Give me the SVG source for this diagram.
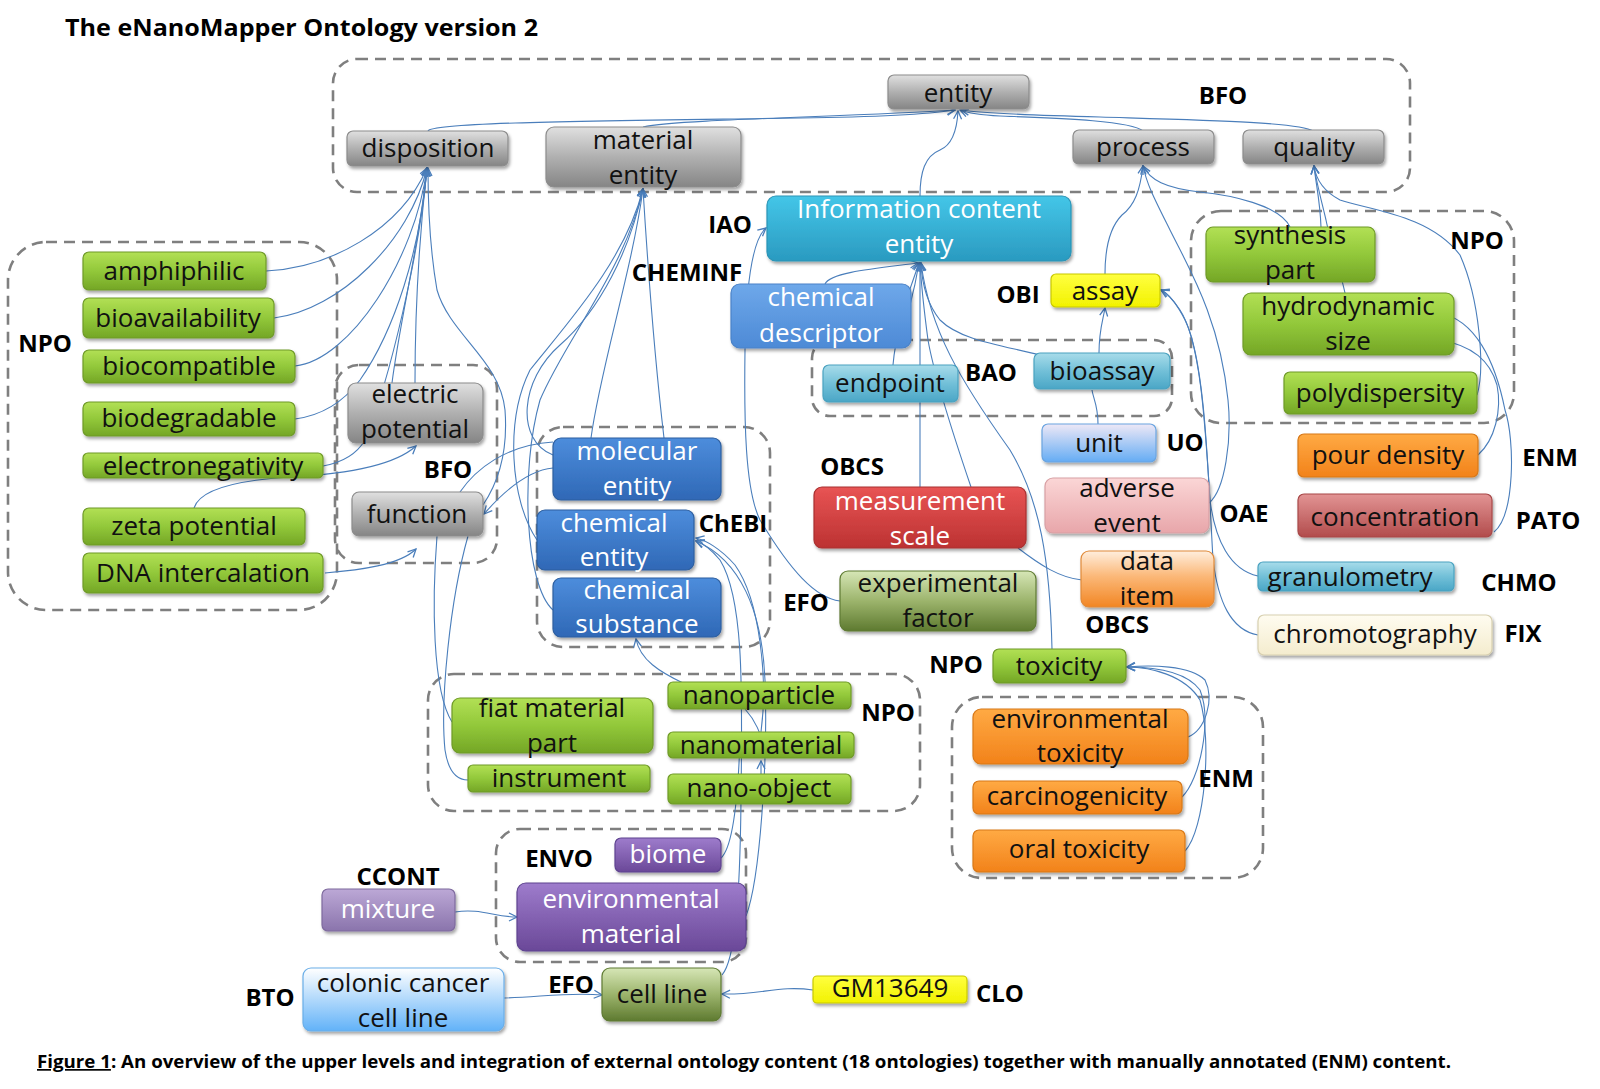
<svg xmlns="http://www.w3.org/2000/svg" width="1600" height="1089" viewBox="0 0 1600 1089">
<defs>
<style>
.t{font-family:"Open Sans","DejaVu Sans",sans-serif;font-size:26px;text-anchor:middle;fill:#111}
.w{fill:#fff}
.lbl{font-family:"Open Sans","DejaVu Sans",sans-serif;font-weight:700;font-size:24px;text-anchor:middle;fill:#000}
.grp{fill:none;stroke:#7f7f7f;stroke-width:2.6;stroke-dasharray:11 7}
.c path{fill:none;stroke:#4a7ebb;stroke-width:1.1}
.c .a{marker-end:url(#arr)}
.n rect{stroke-width:1.2;filter:url(#sh)}
.gray rect{fill:url(#gGray);stroke:#8c8c8c}
.green rect{fill:url(#gGreen);stroke:#6f9a28}
.blue rect{fill:url(#gBlue);stroke:#2d5f9f}
.lblue rect{fill:url(#gLBlue);stroke:#4a82c8}
.cyan rect{fill:url(#gCyan);stroke:#2a94b6}
.teal rect{fill:url(#gTeal);stroke:#4aa2c0}
.yellow rect{fill:url(#gYellow);stroke:#c8c800}
.red rect{fill:url(#gRed);stroke:#a83030}
.pink rect{fill:url(#gPink);stroke:#d8a0a4}
.peach rect{fill:url(#gPeach);stroke:#e08a3a}
.olive rect{fill:url(#gOlive);stroke:#5e7a32}
.unit rect{fill:url(#gUnit);stroke:#6aa4e0}
.orange rect{fill:url(#gOrange);stroke:#d87818}
.conc rect{fill:url(#gConc);stroke:#a84848}
.cream rect{fill:url(#gCream);stroke:#d8d0b0}
.purple rect{fill:url(#gPurple);stroke:#5e4390}
.mix rect{fill:url(#gMix);stroke:#7e6a9e}
.colon rect{fill:url(#gColon);stroke:#6aaee8}
</style>
<filter id="sh" x="-10%" y="-20%" width="125%" height="150%">
<feDropShadow dx="1.5" dy="2.5" stdDeviation="1.8" flood-color="#000" flood-opacity="0.35"/>
</filter>
<marker id="arr" viewBox="0 0 10 10" refX="9" refY="5" markerWidth="10" markerHeight="10" markerUnits="userSpaceOnUse" orient="auto">
<path d="M1,1 L9,5 L1,9" fill="none" stroke="#4a7ebb" stroke-width="1.3"/>
</marker>
<linearGradient id="gGray" x1="0" y1="0" x2="0" y2="1"><stop offset="0" stop-color="#e0e0e0"/><stop offset="0.5" stop-color="#b0b0b0"/><stop offset="1" stop-color="#858585"/></linearGradient>
<linearGradient id="gGreen" x1="0" y1="0" x2="0" y2="1"><stop offset="0" stop-color="#b2e055"/><stop offset="0.5" stop-color="#92c83a"/><stop offset="1" stop-color="#74a626"/></linearGradient>
<linearGradient id="gBlue" x1="0" y1="0" x2="0" y2="1"><stop offset="0" stop-color="#4d8ddc"/><stop offset="1" stop-color="#2f68b6"/></linearGradient>
<linearGradient id="gLBlue" x1="0" y1="0" x2="0" y2="1"><stop offset="0" stop-color="#6ea8ea"/><stop offset="1" stop-color="#4d8ad6"/></linearGradient>
<linearGradient id="gCyan" x1="0" y1="0" x2="0" y2="1"><stop offset="0" stop-color="#44c6e8"/><stop offset="1" stop-color="#2a9ac0"/></linearGradient>
<linearGradient id="gTeal" x1="0" y1="0" x2="0" y2="1"><stop offset="0" stop-color="#a8dcea"/><stop offset="0.5" stop-color="#72c0d8"/><stop offset="1" stop-color="#4aa6c6"/></linearGradient>
<linearGradient id="gYellow" x1="0" y1="0" x2="0" y2="1"><stop offset="0" stop-color="#ffff40"/><stop offset="1" stop-color="#f2f200"/></linearGradient>
<linearGradient id="gRed" x1="0" y1="0" x2="0" y2="1"><stop offset="0" stop-color="#e85454"/><stop offset="1" stop-color="#bc3232"/></linearGradient>
<linearGradient id="gPink" x1="0" y1="0" x2="0" y2="1"><stop offset="0" stop-color="#fbd6d6"/><stop offset="1" stop-color="#e8a6aa"/></linearGradient>
<linearGradient id="gPeach" x1="0" y1="0" x2="0" y2="1"><stop offset="0" stop-color="#ffeedd"/><stop offset="0.45" stop-color="#fbb878"/><stop offset="1" stop-color="#f28624"/></linearGradient>
<linearGradient id="gOlive" x1="0" y1="0" x2="0" y2="1"><stop offset="0" stop-color="#d6e6b6"/><stop offset="0.5" stop-color="#9cb46c"/><stop offset="1" stop-color="#5e7a30"/></linearGradient>
<linearGradient id="gUnit" x1="0" y1="0" x2="0" y2="1"><stop offset="0" stop-color="#eee8f6"/><stop offset="1" stop-color="#64acf4"/></linearGradient>
<linearGradient id="gOrange" x1="0" y1="0" x2="0" y2="1"><stop offset="0" stop-color="#ffaa44"/><stop offset="1" stop-color="#f2821a"/></linearGradient>
<linearGradient id="gConc" x1="0" y1="0" x2="0" y2="1"><stop offset="0" stop-color="#e29494"/><stop offset="1" stop-color="#b24c4c"/></linearGradient>
<linearGradient id="gCream" x1="0" y1="0" x2="0" y2="1"><stop offset="0" stop-color="#fffcf0"/><stop offset="1" stop-color="#f4ecce"/></linearGradient>
<linearGradient id="gPurple" x1="0" y1="0" x2="0" y2="1"><stop offset="0" stop-color="#9e7ccc"/><stop offset="1" stop-color="#6a4898"/></linearGradient>
<linearGradient id="gMix" x1="0" y1="0" x2="0" y2="1"><stop offset="0" stop-color="#bca8d6"/><stop offset="1" stop-color="#8a74ac"/></linearGradient>
<linearGradient id="gColon" x1="0" y1="0" x2="0" y2="1"><stop offset="0" stop-color="#ffffff"/><stop offset="1" stop-color="#62b2f8"/></linearGradient>
</defs>
<rect width="1600" height="1089" fill="#fff"/>

<text x="65" y="36" font-family="Open Sans, DejaVu Sans, sans-serif" font-weight="700" font-size="24" textLength="473" lengthAdjust="spacingAndGlyphs">The eNanoMapper Ontology version 2</text>

<g id="groups">
<rect class="grp" x="333" y="59" width="1077" height="133" rx="24"/>
<rect class="grp" x="8" y="242" width="329" height="368" rx="38"/>
<rect class="grp" x="335" y="365" width="162" height="198" rx="24"/>
<rect class="grp" x="537" y="427" width="233" height="220" rx="26"/>
<rect class="grp" x="812" y="340" width="360" height="76" rx="18"/>
<rect class="grp" x="1191" y="211" width="323" height="212" rx="30"/>
<rect class="grp" x="428" y="674" width="492" height="137" rx="26"/>
<rect class="grp" x="496" y="829" width="250" height="133" rx="24"/>
<rect class="grp" x="952" y="697" width="311" height="181" rx="30"/>
</g>

<g id="connectors" class="c">
<path class="a" d="M428,131 C432,122 600,121 800,118 C880,117 930,114 955,110"/>
<path class="a" d="M643,127 C680,119 850,117 955,110"/>
<path class="a" d="M1143,131 C1130,120 1050,118 1000,116 C980,115 965,112 960,110"/>
<path class="a" d="M1313,131 C1300,122 1200,120 1100,117 C1020,115 975,112 961,110"/>
<path class="a" d="M920,196 C920,172 925,156 940,150 C952,145 957,130 958,111"/>
<path class="a" d="M266,271 C330,268 400,230 427,168"/>
<path class="a" d="M274,318 C340,310 410,240 427,168"/>
<path class="a" d="M295,366 C350,360 415,260 427,168"/>
<path class="a" d="M295,419 C325,415 345,400 360,380 C395,330 420,250 427,168"/>
<path class="a" d="M415,383 C415,300 420,230 427,168"/>
<path class="a" d="M392,383 C400,320 420,240 427,168"/>
<path class="a" d="M323,466 C345,462 358,452 365,440 C390,380 420,250 427,168"/>
<path class="a" d="M194,508 C200,488 240,480 290,477 C350,474 395,465 416,446"/>
<path class="a" d="M325,573 C360,570 400,565 416,549"/>
<path class="a" d="M483,505 C500,480 508,450 505,410 C500,360 450,335 437,290 C430,250 428,200 428,168"/>
<path class="a" d="M553,468 C530,470 505,490 484,514"/>
<path d="M460,492 C475,470 505,445 553,442"/>
<path d="M437,536 C432,600 432,690 452,722"/>
<path d="M468,536 C450,600 440,700 445,750 C448,770 455,780 468,780"/>
<path class="a" d="M591,438 C600,370 632,270 643,189"/>
<path class="a" d="M664,438 C656,370 648,270 643,189"/>
<path class="a" d="M553,455 C515,440 520,380 560,345 C600,310 630,250 643,189"/>
<path class="a" d="M537,540 C510,500 505,420 530,370 C570,320 625,260 643,189"/>
<path class="a" d="M553,610 C525,585 520,470 540,400 C565,340 625,270 643,189"/>
<path class="a" d="M683,683 C660,672 640,660 636,639"/>
<path class="a" d="M761,774 L761,761"/>
<path d="M745,709 C755,720 762,735 762,745"/>
<path class="a" d="M761,732 C768,680 760,600 735,565 C720,548 705,540 696,538"/>
<path class="a" d="M746,916 C760,880 768,760 765,680 C762,610 740,560 696,541"/>
<path class="a" d="M722,975 C735,960 740,900 741,800 C742,700 745,600 720,560 C710,548 702,543 696,541"/>
<path d="M721,858 C732,848 738,800 740,740"/>
<path class="a" d="M825,284 C830,272 880,268 918,263"/>
<path class="a" d="M910,305 C914,290 917,275 919,263"/>
<path class="a" d="M893,365 C895,340 905,300 919,263"/>
<path class="a" d="M920,487 L920,263"/>
<path class="a" d="M971,487 C955,440 935,380 928,340 C924,310 921,280 920,263"/>
<path class="a" d="M1040,355 C1000,345 960,340 940,320 C928,305 922,285 921,263"/>
<path class="a" d="M1052,649 C1050,560 1040,500 1010,450 C960,380 930,330 921,263"/>
<path d="M1082,580 C1060,578 1040,565 1018,548"/>
<path class="a" d="M840,601 C815,598 790,570 760,520 C745,490 744,420 745,350 C746,290 752,240 766,228"/>
<path class="a" d="M1105,274 C1105,245 1112,225 1122,215 C1135,205 1140,190 1143,166"/>
<path class="a" d="M1290,227 C1280,205 1230,195 1200,192 C1165,188 1150,180 1143,166"/>
<path class="a" d="M1209,503 C1225,490 1232,440 1228,400 C1220,320 1190,270 1170,230 C1155,200 1147,185 1143,166"/>
<path class="a" d="M1258,576 C1230,570 1215,540 1210,500 C1205,420 1200,340 1180,310 C1172,298 1166,292 1161,290"/>
<path class="a" d="M1258,635 C1230,630 1218,600 1213,560 C1208,470 1205,360 1185,320 C1176,302 1168,294 1161,290"/>
<path class="a" d="M1321,227 C1320,200 1316,185 1314,166"/>
<path class="a" d="M1345,293 C1340,270 1330,240 1326,220 C1320,195 1316,180 1314,166"/>
<path class="a" d="M1477,395 C1485,370 1480,300 1460,255 C1430,215 1370,210 1340,200 C1325,192 1316,180 1314,166"/>
<path d="M1478,455 C1495,440 1502,410 1497,385 C1490,360 1470,345 1440,340"/>
<path d="M1494,532 C1515,515 1515,440 1505,410 C1495,360 1475,320 1440,313"/>
<path d="M1098,424 C1098,405 1093,398 1092,390"/>
<path class="a" d="M1099,353 C1099,330 1103,320 1105,308"/>
<path class="a" d="M1188,737 C1205,730 1215,700 1205,680 C1190,665 1150,665 1127,667"/>
<path class="a" d="M1182,797 C1200,780 1212,720 1200,690 C1185,670 1150,667 1127,667"/>
<path class="a" d="M1185,851 C1205,830 1212,740 1200,700 C1185,675 1150,667 1127,667"/>
<path class="a" d="M455,912 C480,908 495,917 517,917"/>
<path class="a" d="M504,998 C540,997 570,992 602,995"/>
<path class="a" d="M813,990 C780,985 760,995 722,994"/>
</g>

<g id="nodes">
<g id="n-entity" class="n gray"><rect x="888" y="75" width="141" height="34" rx="6"/><text class="t" x="958" y="102">entity</text></g>
<g id="n-disposition" class="n gray"><rect x="347" y="131" width="161" height="35" rx="6"/><text class="t" x="428" y="157">disposition</text></g>
<g id="n-material-entity" class="n gray"><rect x="546" y="127" width="195" height="60" rx="8"/><text class="t" x="643" y="149">material</text><text class="t" x="643" y="184">entity</text></g>
<g id="n-process" class="n gray"><rect x="1073" y="130" width="141" height="34" rx="6"/><text class="t" x="1143" y="156">process</text></g>
<g id="n-quality" class="n gray"><rect x="1243" y="130" width="141" height="34" rx="6"/><text class="t" x="1314" y="156">quality</text></g>
<g id="n-electric-potential" class="n gray"><rect x="348" y="383" width="135" height="60" rx="8"/><text class="t" x="415" y="403">electric</text><text class="t" x="415" y="438">potential</text></g>
<g id="n-function" class="n gray"><rect x="352" y="492" width="131" height="44" rx="7"/><text class="t" x="417" y="523">function</text></g>

<g id="n-amphiphilic" class="n green"><rect x="83" y="252" width="183" height="38" rx="6"/><text class="t" x="174" y="280">amphiphilic</text></g>
<g id="n-bioavailability" class="n green"><rect x="83" y="298" width="191" height="40" rx="6"/><text class="t" x="178" y="327">bioavailability</text></g>
<g id="n-biocompatible" class="n green"><rect x="83" y="350" width="212" height="33" rx="6"/><text class="t" x="189" y="375">biocompatible</text></g>
<g id="n-biodegradable" class="n green"><rect x="83" y="402" width="212" height="34" rx="6"/><text class="t" x="189" y="427">biodegradable</text></g>
<g id="n-electronegativity" class="n green"><rect x="83" y="453" width="240" height="25" rx="5"/><text class="t" x="203" y="475">electronegativity</text></g>
<g id="n-zeta-potential" class="n green"><rect x="83" y="508" width="222" height="37" rx="6"/><text class="t" x="194" y="535">zeta potential</text></g>
<g id="n-dna-intercalation" class="n green"><rect x="83" y="553" width="240" height="40" rx="6"/><text class="t" x="203" y="582">DNA intercalation</text></g>
<g id="n-synthesis-part" class="n green"><rect x="1206" y="227" width="169" height="55" rx="7"/><text class="t" x="1290" y="244">synthesis</text><text class="t" x="1290" y="279">part</text></g>
<g id="n-hydrodynamic-size" class="n green"><rect x="1243" y="293" width="211" height="62" rx="8"/><text class="t" x="1348" y="315">hydrodynamic</text><text class="t" x="1348" y="350">size</text></g>
<g id="n-polydispersity" class="n green"><rect x="1284" y="372" width="193" height="42" rx="6"/><text class="t" x="1380" y="402">polydispersity</text></g>
<g id="n-toxicity" class="n green"><rect x="993" y="649" width="133" height="34" rx="6"/><text class="t" x="1059" y="675">toxicity</text></g>
<g id="n-fiat-material-part" class="n green"><rect x="452" y="698" width="201" height="55" rx="8"/><text class="t" x="552" y="717">fiat material</text><text class="t" x="552" y="752">part</text></g>
<g id="n-instrument" class="n green"><rect x="468" y="765" width="182" height="27" rx="5"/><text class="t" x="559" y="787">instrument</text></g>
<g id="n-nanoparticle" class="n green"><rect x="668" y="682" width="183" height="27" rx="5"/><text class="t" x="759" y="704">nanoparticle</text></g>
<g id="n-nanomaterial" class="n green"><rect x="668" y="732" width="186" height="26" rx="5"/><text class="t" x="761" y="754">nanomaterial</text></g>
<g id="n-nano-object" class="n green"><rect x="668" y="774" width="183" height="30" rx="5"/><text class="t" x="759" y="797">nano-object</text></g>

<g id="n-information-content-entity" class="n cyan"><rect x="767" y="196" width="304" height="65" rx="9"/><text class="t w" x="919" y="218">Information content</text><text class="t w" x="919" y="253">entity</text></g>
<g id="n-chemical-descriptor" class="n lblue"><rect x="731" y="284" width="180" height="64" rx="9"/><text class="t w" x="821" y="306">chemical</text><text class="t w" x="821" y="342">descriptor</text></g>
<g id="n-molecular-entity" class="n blue"><rect x="553" y="438" width="168" height="62" rx="8"/><text class="t w" x="637" y="460">molecular</text><text class="t w" x="637" y="495">entity</text></g>
<g id="n-chemical-entity" class="n blue"><rect x="537" y="510" width="157" height="60" rx="8"/><text class="t w" x="614" y="532">chemical</text><text class="t w" x="614" y="566">entity</text></g>
<g id="n-chemical-substance" class="n blue"><rect x="553" y="578" width="168" height="59" rx="8"/><text class="t w" x="637" y="599">chemical</text><text class="t w" x="637" y="633">substance</text></g>
<g id="n-endpoint" class="n teal"><rect x="823" y="365" width="135" height="37" rx="6"/><text class="t" x="890" y="392">endpoint</text></g>
<g id="n-bioassay" class="n teal"><rect x="1034" y="353" width="136" height="36" rx="6"/><text class="t" x="1102" y="380">bioassay</text></g>
<g id="n-granulometry" class="n teal"><rect x="1258" y="562" width="196" height="29" rx="5"/><text class="t" x="1350" y="586">granulometry</text></g>
<g id="n-assay" class="n yellow"><rect x="1051" y="274" width="109" height="33" rx="5"/><text class="t" x="1105" y="300">assay</text></g>
<g id="n-measurement-scale" class="n red"><rect x="814" y="487" width="212" height="61" rx="8"/><text class="t w" x="920" y="510">measurement</text><text class="t w" x="920" y="545">scale</text></g>
<g id="n-unit" class="n unit"><rect x="1042" y="424" width="114" height="38" rx="6"/><text class="t" x="1099" y="452">unit</text></g>
<g id="n-adverse-event" class="n pink"><rect x="1045" y="478" width="164" height="55" rx="8"/><text class="t" x="1127" y="497" fill="#333">adverse</text><text class="t" x="1127" y="532" fill="#333">event</text></g>
<g id="n-data-item" class="n peach"><rect x="1081" y="551" width="133" height="56" rx="8"/><text class="t" x="1147" y="570">data</text><text class="t" x="1147" y="605">item</text></g>
<g id="n-experimental-factor" class="n olive"><rect x="840" y="571" width="196" height="60" rx="8"/><text class="t" x="938" y="592">experimental</text><text class="t" x="938" y="627">factor</text></g>
<g id="n-pour-density" class="n orange"><rect x="1298" y="434" width="180" height="43" rx="6"/><text class="t" x="1388" y="464">pour density</text></g>
<g id="n-concentration" class="n conc"><rect x="1298" y="494" width="194" height="43" rx="6"/><text class="t" x="1395" y="526">concentration</text></g>
<g id="n-chromotography" class="n cream"><rect x="1258" y="615" width="234" height="40" rx="6"/><text class="t" x="1375" y="643">chromotography</text></g>
<g id="n-environmental-toxicity" class="n orange"><rect x="973" y="709" width="215" height="55" rx="8"/><text class="t" x="1080" y="728">environmental</text><text class="t" x="1080" y="762">toxicity</text></g>
<g id="n-carcinogenicity" class="n orange"><rect x="973" y="781" width="209" height="33" rx="6"/><text class="t" x="1077" y="805">carcinogenicity</text></g>
<g id="n-oral-toxicity" class="n orange"><rect x="973" y="830" width="212" height="42" rx="6"/><text class="t" x="1079" y="858">oral toxicity</text></g>
<g id="n-biome" class="n purple"><rect x="615" y="838" width="106" height="34" rx="6"/><text class="t w" x="668" y="863">biome</text></g>
<g id="n-environmental-material" class="n purple"><rect x="517" y="883" width="229" height="68" rx="9"/><text class="t w" x="631" y="908">environmental</text><text class="t w" x="631" y="943">material</text></g>
<g id="n-mixture" class="n mix"><rect x="322" y="889" width="133" height="42" rx="6"/><text class="t w" x="388" y="918">mixture</text></g>
<g id="n-colonic-cancer-cell-line" class="n colon"><rect x="303" y="968" width="201" height="63" rx="8"/><text class="t" x="403" y="992">colonic cancer</text><text class="t" x="403" y="1027">cell line</text></g>
<g id="n-cell-line" class="n olive"><rect x="602" y="968" width="119" height="53" rx="8"/><text class="t" x="662" y="1003">cell line</text></g>
<g id="n-gm13649" class="n yellow"><rect x="813" y="976" width="154" height="27" rx="4"/><text class="t" x="890" y="997">GM13649</text></g>
</g>

<g id="labels">
<text class="lbl" x="1223" y="104">BFO</text>
<text class="lbl" x="730" y="233">IAO</text>
<text class="lbl" x="687" y="281">CHEMINF</text>
<text class="lbl" x="1018" y="303">OBI</text>
<text class="lbl" x="991" y="381">BAO</text>
<text class="lbl" x="1477" y="249">NPO</text>
<text class="lbl" x="45" y="352">NPO</text>
<text class="lbl" x="448" y="478">BFO</text>
<text class="lbl" x="1185" y="451">UO</text>
<text class="lbl" x="1244" y="522">OAE</text>
<text class="lbl" x="1117" y="633">OBCS</text>
<text class="lbl" x="1550" y="466">ENM</text>
<text class="lbl" x="1548" y="529">PATO</text>
<text class="lbl" x="1519" y="591">CHMO</text>
<text class="lbl" x="1523" y="642">FIX</text>
<text class="lbl" x="852" y="475">OBCS</text>
<text class="lbl" x="806" y="611">EFO</text>
<text class="lbl" x="733" y="532">ChEBI</text>
<text class="lbl" x="956" y="673">NPO</text>
<text class="lbl" x="1226" y="787">ENM</text>
<text class="lbl" x="888" y="721">NPO</text>
<text class="lbl" x="559" y="867">ENVO</text>
<text class="lbl" x="398" y="885">CCONT</text>
<text class="lbl" x="270" y="1006">BTO</text>
<text class="lbl" x="571" y="993">EFO</text>
<text class="lbl" x="1000" y="1002">CLO</text>
</g>

<text x="37" y="1068" font-family="Open Sans, DejaVu Sans, sans-serif" font-weight="700" font-size="17" textLength="1414" lengthAdjust="spacingAndGlyphs"><tspan text-decoration="underline">Figure 1</tspan>: An overview of the upper levels and integration of external ontology content (18 ontologies) together with manually annotated (ENM) content.</text>
</svg>
